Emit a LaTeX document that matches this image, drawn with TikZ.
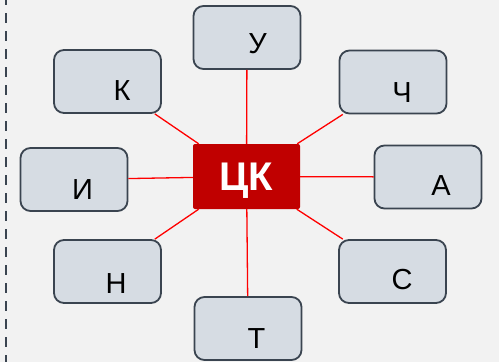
\documentclass[tikz,border=0pt]{standalone}
\usepackage{fontspec}
\setmainfont{Liberation Sans}
\definecolor{bgc}{HTML}{F2F2F2}
\definecolor{boxfill}{HTML}{D6DCE3}
\definecolor{boxline}{HTML}{3A4450}
\definecolor{ckred}{HTML}{C00000}
\begin{document}
\begin{tikzpicture}[x=1pt,y=-1pt,
  box/.style={draw=boxline,fill=boxfill,line width=1.8pt,rounded corners=10pt,
    minimum width=107pt,minimum height=63pt,inner sep=0pt},
  ckbox/.style={fill=ckred,rounded corners=2pt,minimum width=107pt,minimum height=65pt,inner sep=0pt},
  lbl/.style={anchor=base,inner sep=0pt,font=\fontsize{29}{29}\selectfont,text=black},
  link/.style={draw=red,line width=1.3pt}]
\fill[bgc] (0,0) rectangle (499,362);
\useasboundingbox (0,0) rectangle (499,362);
\coordinate (dtop) at (6,-5);
\coordinate (dbot) at (6,362);
\draw[boxline,line width=2pt,dash pattern=on 10pt off 8pt] (dtop) -- (dbot);
\node[ckbox] (ck) at (246.5,176.5) {};
\node[anchor=base,inner sep=0pt,text=white,font=\fontsize{40}{40}\selectfont\bfseries] (cktext) at (246,190) {ЦК};
\node[box] (u) at (247,37.5) {};
\node[box] (k) at (107.5,81.5) {};
\node[box] (ch) at (393,82) {};
\node[box] (i) at (74,179.5) {};
\node[box] (a) at (428,177) {};
\node[box] (n) at (107.5,271.5) {};
\node[box] (s) at (392.5,271.5) {};
\node[box] (t) at (248,328.5) {};
\node[lbl] (ut) at (257.5,53.5) {У};
\node[lbl] (kt) at (122,100) {К};
\node[lbl] (cht) at (402,102) {Ч};
\node[lbl] (it) at (82.5,199.5) {И};
\node[lbl] (at) at (441,195) {А};
\node[lbl] (nt) at (116,293) {Н};
\node[lbl] (st) at (402,289.5) {С};
\node[lbl] (tt) at (256.5,348) {Т};
\foreach \b in {u,k,ch,i,a,n,s,t} {\draw[link] (ck) -- (\b);}
\end{tikzpicture}
\end{document}
